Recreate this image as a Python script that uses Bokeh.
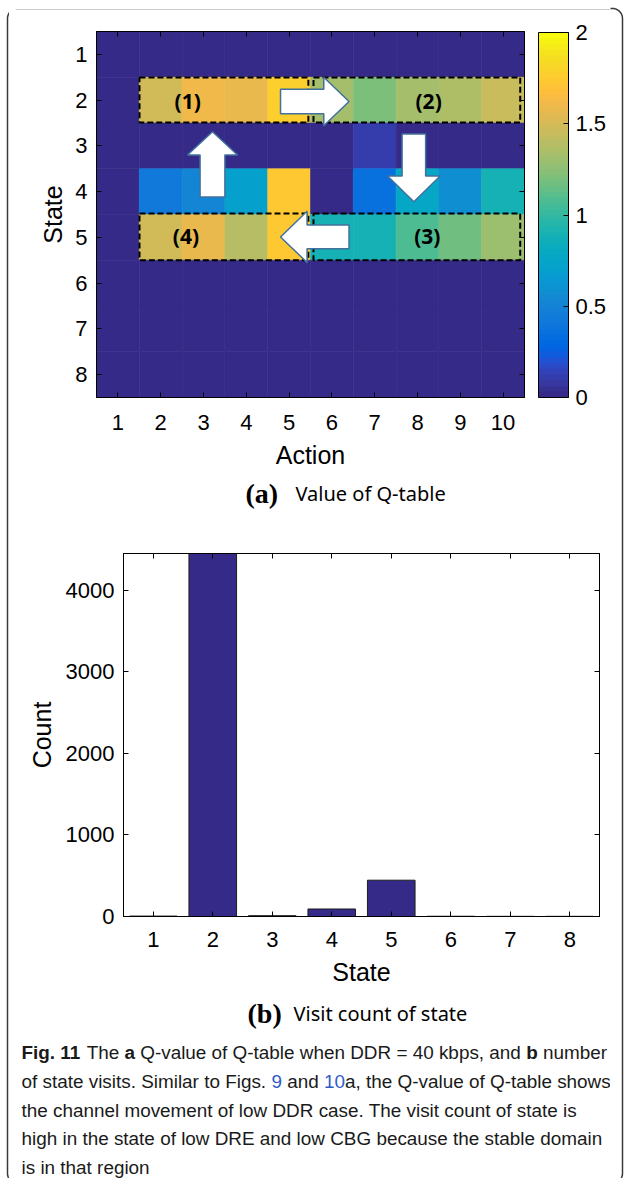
import math
from bokeh.plotting import figure
from bokeh.models import (Range1d, FixedTicker, LinearAxis, ColorBar, LinearColorMapper,
                          ColumnDataSource, CustomJSTickFormatter)
from bokeh.layouts import column, row
from bokeh.embed import file_html
from bokeh.resources import INLINE
from bokeh.core.properties import value

# ---------------- data ----------------
actions = [1, 2, 3, 4, 5, 6, 7, 8, 9, 10]
states = [1, 2, 3, 4, 5, 6, 7, 8]
q_state1 = [0.00, 0.00, 0.00, 0.00, 0.00, 0.00, 0.00, 0.00, 0.00, 0.00]
q_state2 = [0.00, 1.48, 1.61, 1.59, 1.76, 1.32, 1.20, 1.33, 1.36, 1.45]
q_state3 = [0.00, 0.00, 0.00, 0.00, 0.00, 0.00, 0.11, 0.00, 0.00, 0.00]
q_state4 = [0.00, 0.42, 0.52, 0.70, 1.74, 0.03, 0.36, 0.77, 0.58, 0.89]
q_state5 = [0.00, 1.48, 1.58, 1.39, 1.72, 0.90, 0.90, 1.08, 1.16, 1.30]
q_state6 = [0.00, 0.00, 0.00, 0.00, 0.00, 0.00, 0.00, 0.00, 0.00, 0.00]
q_state7 = [0.00, 0.00, 0.00, 0.00, 0.00, 0.00, 0.00, 0.00, 0.00, 0.00]
q_state8 = [0.00, 0.00, 0.00, 0.00, 0.00, 0.00, 0.00, 0.00, 0.00, 0.00]
colorbar_ticks = [0, 0.5, 1, 1.5, 2]

visit_states = [1, 2, 3, 4, 5, 6, 7, 8]
visit_counts = [5, 4450, 10, 92, 445, 3, 2, 2]
count_ticks = [0, 1000, 2000, 3000, 4000]

# ---------------- parula colormap ----------------
PARULA_RGB = [
    (0.2081, 0.1663, 0.5292), (0.2116, 0.1898, 0.5777), (0.2123, 0.2138, 0.6270), (0.2081, 0.2386, 0.6771),
    (0.1959, 0.2645, 0.7279), (0.1707, 0.2919, 0.7792), (0.1253, 0.3242, 0.8303), (0.0591, 0.3598, 0.8683),
    (0.0117, 0.3875, 0.8820), (0.0060, 0.4086, 0.8828), (0.0165, 0.4266, 0.8786), (0.0329, 0.4430, 0.8720),
    (0.0498, 0.4586, 0.8641), (0.0629, 0.4737, 0.8554), (0.0723, 0.4887, 0.8467), (0.0779, 0.5040, 0.8384),
    (0.0793, 0.5200, 0.8312), (0.0749, 0.5375, 0.8263), (0.0641, 0.5570, 0.8240), (0.0488, 0.5772, 0.8228),
    (0.0343, 0.5966, 0.8199), (0.0265, 0.6137, 0.8135), (0.0239, 0.6287, 0.8038), (0.0231, 0.6418, 0.7913),
    (0.0228, 0.6535, 0.7768), (0.0267, 0.6642, 0.7607), (0.0384, 0.6743, 0.7436), (0.0590, 0.6838, 0.7254),
    (0.0843, 0.6928, 0.7062), (0.1133, 0.7015, 0.6859), (0.1453, 0.7098, 0.6646), (0.1801, 0.7177, 0.6424),
    (0.2178, 0.7250, 0.6193), (0.2586, 0.7317, 0.5954), (0.3022, 0.7376, 0.5712), (0.3482, 0.7424, 0.5473),
    (0.3953, 0.7459, 0.5244), (0.4420, 0.7481, 0.5033), (0.4871, 0.7491, 0.4840), (0.5300, 0.7491, 0.4661),
    (0.5709, 0.7485, 0.4494), (0.6099, 0.7473, 0.4337), (0.6473, 0.7456, 0.4188), (0.6834, 0.7435, 0.4044),
    (0.7184, 0.7411, 0.3905), (0.7525, 0.7384, 0.3768), (0.7858, 0.7356, 0.3633), (0.8185, 0.7327, 0.3498),
    (0.8507, 0.7299, 0.3360), (0.8824, 0.7274, 0.3217), (0.9139, 0.7258, 0.3063), (0.9450, 0.7261, 0.2886),
    (0.9739, 0.7314, 0.2666), (0.9938, 0.7455, 0.2403), (0.9990, 0.7653, 0.2164), (0.9955, 0.7861, 0.1967),
    (0.9880, 0.8066, 0.1794), (0.9789, 0.8271, 0.1633), (0.9697, 0.8481, 0.1475), (0.9626, 0.8705, 0.1309),
    (0.9589, 0.8949, 0.1132), (0.9598, 0.9218, 0.0948), (0.9661, 0.9514, 0.0755), (0.9763, 0.9831, 0.0538),
]
parula = ["#%02x%02x%02x" % tuple(int(round(c * 255)) for c in rgb) for rgb in PARULA_RGB]
mapper = LinearColorMapper(palette=parula, low=0, high=2)

FONT = "Liberation Sans"
BORDER_COLOR = "#3a3a3a"
MAIN_X0, MAIN_X1 = 9, 610          # page x-span of the middle column
PAGE_W, PAGE_H = 625, 1178


def style_axis(ax, ticks, labels=True):
    ax.ticker = FixedTicker(ticks=ticks)
    ax.axis_line_color = "black"
    ax.axis_line_width = 1
    ax.major_tick_line_color = "black"
    ax.major_tick_line_width = 1
    ax.major_tick_in = 5
    ax.major_tick_out = 0
    ax.minor_tick_line_color = None
    ax.major_label_text_font = FONT
    ax.major_label_text_color = "black"
    ax.axis_label_text_font = FONT
    ax.axis_label_text_font_size = "25px"
    ax.axis_label_text_font_style = "normal"
    ax.axis_label_text_color = "black"
    if labels:
        ax.major_label_text_font_size = "22px"
    else:
        ax.formatter = CustomJSTickFormatter(code="return '';")
        ax.major_label_text_font_size = "1px"
        ax.major_label_standoff = 0


def border_xy():
    L, T, R, B, r = 7, 8, 622, 1183, 10
    xs, ys = [], []

    def arc(cx, cy, a0, a1):
        for k in range(13):
            a = a0 + (a1 - a0) * k / 12
            xs.append(cx + r * math.cos(a))
            ys.append(cy + r * math.sin(a))

    arc(L + r, T + r, math.pi, 1.5 * math.pi)
    arc(R - r, T + r, 1.5 * math.pi, 2 * math.pi)
    arc(R - r, B - r, 0, 0.5 * math.pi)
    arc(L + r, B - r, 0.5 * math.pi, math.pi)
    xs.append(xs[0])
    ys.append(ys[0])
    return xs, ys


BX, BY = border_xy()


def page_fig(x0, x1, y0, y1):
    """A figure whose frame is the whole canvas, in page pixel coordinates."""
    p = figure(width=x1 - x0, height=y1 - y0, x_range=Range1d(x0, x1), y_range=Range1d(y1, y0),
               min_border=0, x_axis_location=None, y_axis_location=None,
               output_backend="svg", toolbar_location=None,
               background_fill_color="white", border_fill_color="white",
               outline_line_color=None, frame_align=False)
    p.grid.visible = False
    p.line(BX, BY, line_color=BORDER_COLOR, line_width=1.5)
    return p


# ---------------- (a) heatmap ----------------
q_rows = [q_state1, q_state2, q_state3, q_state4, q_state5, q_state6, q_state7, q_state8]
hx, hy, hv = [], [], []
for s, row_vals in zip(states, q_rows):
    for a, v in zip(actions, row_vals):
        hx.append(a)
        hy.append(s)
        hv.append(v)
hsrc = ColumnDataSource(dict(x=hx, y=hy, v=hv))

A_Y0, A_Y1 = 10, 478
pa = figure(frame_width=428, frame_height=366,
            min_border_left=96 - MAIN_X0, min_border_right=(MAIN_X1 - MAIN_X0) - (96 - MAIN_X0) - 428,
            min_border_top=31 - A_Y0, min_border_bottom=A_Y1 - 397,
            x_range=Range1d(0.5, 10.5), y_range=Range1d(8.5, 0.5),
            output_backend="svg", toolbar_location=None,
            background_fill_color="white", border_fill_color="white",
            outline_line_color="black", frame_align=False)
pa.grid.visible = False
pa.rect(x="x", y="y", width=1, height=1, source=hsrc,
        fill_color={"field": "v", "transform": mapper},
        line_color={"field": "v", "transform": mapper}, line_width=0.6)

style_axis(pa.xaxis[0], actions)
style_axis(pa.yaxis[0], states)
pa.xaxis[0].axis_label = "Action"
pa.yaxis[0].axis_label = "State"
pa.xaxis[0].major_label_standoff = 17
pa.xaxis[0].axis_label_standoff = 8
pa.yaxis[0].major_label_standoff = 9
pa.yaxis[0].axis_label_standoff = 5

ax_top = LinearAxis()
style_axis(ax_top, actions, labels=False)
pa.add_layout(ax_top, "above")
ax_right = LinearAxis()
style_axis(ax_right, states, labels=False)
pa.add_layout(ax_right, "right")

cb = ColorBar(color_mapper=mapper, ticker=FixedTicker(ticks=colorbar_ticks),
              formatter=CustomJSTickFormatter(code="return tick.toString();"),
              width=30, height=365, location=(14, 0), padding=0, margin=0,
              orientation="vertical",
              major_label_text_font=FONT, major_label_text_font_size="22px",
              major_label_text_color="black",
              bar_line_color="black", bar_line_width=1,
              major_tick_line_color="black", major_tick_in=5, major_tick_out=0,
              minor_tick_line_color=None, label_standoff=7,
              background_fill_color=None, border_line_color=None)
pa.add_layout(cb, "right")

# dashed region boxes
pa.quad(left=[1.505, 5.57, 5.57, 1.505], right=[5.45, 10.4, 10.4, 5.45],
        top=[1.505, 1.505, 4.48, 4.48], bottom=[2.49, 2.49, 5.5, 5.5],
        fill_color=None, line_color="black", line_width=2, line_dash="6 3")


def harrow(tail, base, tip, c, sh, hh):
    return ([tail, base, base, tip, base, base, tail],
            [c - sh, c - sh, c - hh, c, c + hh, c + sh, c + sh])


def varrow(tail, base, tip, c, sh, hh):
    return ([c - sh, c - sh, c - hh, c, c + hh, c + sh, c + sh],
            [tail, base, base, tip, base, base, tail])


arrows = [harrow(4.80, 5.81, 6.40, 2.03, 0.27, 0.53),
          varrow(2.74, 3.66, 4.22, 7.915, 0.275, 0.615),
          harrow(6.40, 5.42, 4.80, 4.99, 0.26, 0.56),
          varrow(4.12, 3.20, 2.69, 3.21, 0.29, 0.585)]
pa.patches(xs=[a[0] for a in arrows], ys=[a[1] for a in arrows],
           fill_color="white", line_color="#41719c", line_width=1.5)

pa.text(x=[2.63, 8.26, 8.23, 2.59], y=[2.01, 2.01, 4.96, 4.96],
        text=["(1)", "(2)", "(3)", "(4)"], text_font=value("Open Sans"),
        text_font_style="bold", text_font_size="21px", text_color="black",
        text_align="center", text_baseline="middle")

# subtitle (a)
SA_Y0, SA_Y1 = 478, 520
psa = page_fig(MAIN_X0, MAIN_X1, SA_Y0, SA_Y1)
psa.text(x=[245], y=[493], text=["(a)"], text_font=value("Liberation Serif"),
         text_font_style="bold", text_font_size="28px", text_color="black",
         text_align="left", text_baseline="middle")
psa.text(x=[295], y=[493], text=["Value of Q-table"], text_font=value("Noto Sans"),
         text_font_size="20px", text_color="black", text_align="left", text_baseline="middle")

# ---------------- (b) bar chart ----------------
B_Y0, B_Y1 = 520, 995
pb = figure(frame_width=476, frame_height=363,
            min_border_left=123 - MAIN_X0, min_border_right=(MAIN_X1 - MAIN_X0) - (123 - MAIN_X0) - 476,
            min_border_top=553 - B_Y0, min_border_bottom=B_Y1 - 916,
            x_range=Range1d(0.5, 8.5), y_range=Range1d(0, 4450),
            output_backend="svg", toolbar_location=None,
            background_fill_color="white", border_fill_color="white",
            outline_line_color="black", frame_align=False)
pb.grid.visible = False
pb.vbar(x=visit_states, top=visit_counts, bottom=0, width=0.8,
        fill_color="#352a87", line_color="#1e1e1e", line_width=1)
style_axis(pb.xaxis[0], visit_states)
style_axis(pb.yaxis[0], count_ticks)
pb.xaxis[0].axis_label = "State"
pb.yaxis[0].axis_label = "Count"
pb.xaxis[0].major_label_standoff = 15
pb.xaxis[0].axis_label_standoff = 8
pb.yaxis[0].major_label_standoff = 9
pb.yaxis[0].axis_label_standoff = 7

bx_top = LinearAxis()
style_axis(bx_top, visit_states, labels=False)
pb.add_layout(bx_top, "above")
bx_right = LinearAxis()
style_axis(bx_right, count_ticks, labels=False)
pb.add_layout(bx_right, "right")

# subtitle (b)
SB_Y0, SB_Y1 = 995, 1030
psb = page_fig(MAIN_X0, MAIN_X1, SB_Y0, SB_Y1)
psb.text(x=[247], y=[1013], text=["(b)"], text_font=value("Liberation Serif"),
         text_font_style="bold", text_font_size="28px", text_color="black",
         text_align="left", text_baseline="middle")
psb.text(x=[293], y=[1013], text=["Visit count of state"], text_font=value("Noto Sans"),
         text_font_size="20px", text_color="black", text_align="left", text_baseline="middle")

# ---------------- caption ----------------
AR = {' ': 278, '.': 278, ',': 278, '-': 333, '=': 584, '(': 333, ')': 333,
      'a': 556, 'b': 556, 'c': 500, 'd': 556, 'e': 556, 'f': 278, 'g': 556, 'h': 556,
      'i': 222, 'j': 222, 'k': 500, 'l': 222, 'm': 833, 'n': 556, 'o': 556, 'p': 556,
      'q': 556, 'r': 333, 's': 500, 't': 278, 'u': 556, 'v': 500, 'w': 722, 'x': 500,
      'y': 500, 'z': 500, 'A': 667, 'B': 667, 'C': 722, 'D': 722, 'E': 667, 'F': 611,
      'G': 778, 'Q': 778, 'R': 722, 'S': 667, 'T': 611}
AB = {' ': 278, '.': 278, 'F': 611, 'i': 278, 'g': 611, 'a': 556, 'b': 611}
CAP_SIZE = 18.9


def tw(s, kind):
    tbl = AB if kind == "b" else AR
    return sum(tbl.get(ch, 556) for ch in s) * CAP_SIZE / 1000.0


caption_lines = [
    [("Fig. 11", "b"), (" The ", "n"), ("a", "b"),
     (" Q-value of Q-table when DDR = 40 kbps, and ", "n"), ("b", "b"), (" number", "n")],
    [("of state visits. Similar to Figs. ", "n"), ("9", "l"), (" and ", "n"), ("10", "l"),
     ("a, the Q-value of Q-table shows", "n")],
    [("the channel movement of low DDR case. The visit count of state is", "n")],
    [("high in the state of low DRE and low CBG because the stable domain", "n")],
    [("is in that region", "n")],
]

C_Y0, C_Y1 = 1030, PAGE_H
pc = page_fig(MAIN_X0, MAIN_X1, C_Y0, C_Y1)
groups = {"n": dict(x=[], y=[], t=[]), "b": dict(x=[], y=[], t=[]), "l": dict(x=[], y=[], t=[])}
for i, line in enumerate(caption_lines):
    x = 21.0
    y = 1052 + 28.8 * i
    for s, kind in line:
        lead = len(s) - len(s.lstrip())
        groups[kind]["x"].append(x + tw(s[:lead], kind))
        groups[kind]["y"].append(y)
        groups[kind]["t"].append(s.strip())
        x += tw(s, kind)
styles = {"n": ("normal", "#1a1a1a"), "b": ("bold", "#1a1a1a"), "l": ("normal", "#2f5bc9")}
for kind, g in groups.items():
    pc.text(x=g["x"], y=g["y"], text=g["t"], text_font=value(FONT),
            text_font_style=styles[kind][0], text_color=styles[kind][1],
            text_font_size="%.1fpx" % CAP_SIZE, text_align="left", text_baseline="middle")

# ---------------- page frame strips ----------------
ptop = page_fig(MAIN_X0, MAIN_X1, 0, A_Y0)
pleft = page_fig(0, MAIN_X0, 0, PAGE_H)
pright = page_fig(MAIN_X1, PAGE_W, 0, PAGE_H)

middle = column(ptop, pa, psa, pb, psb, pc, spacing=0)
layout = row(pleft, middle, pright, spacing=0)
open("out.html", "w").write(file_html(layout, INLINE))
